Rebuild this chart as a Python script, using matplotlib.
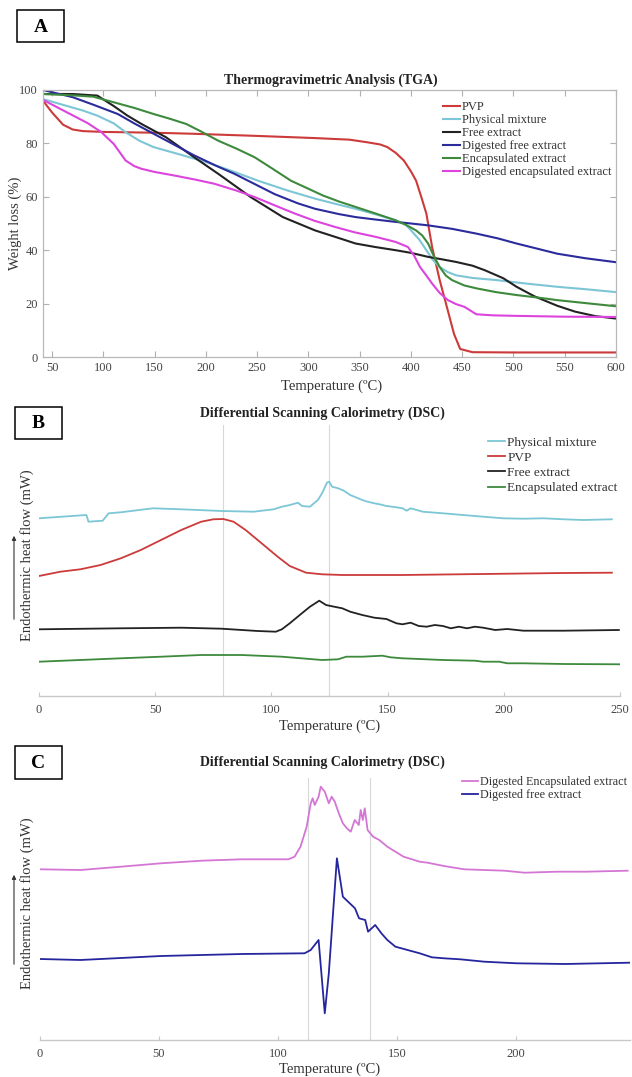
import matplotlib
matplotlib.use("Agg")
import matplotlib.pyplot as plt
from matplotlib.patches import Rectangle, FancyArrowPatch

plt.rcParams['font.family'] = ['Liberation Serif', 'DejaVu Serif']

W, H = 632, 1077

# ---- A : TGA (weight %) ----
pvp_t = [41, 50, 60.6, 70, 80, 100, 150, 188, 250, 306, 340, 357.6, 370, 377, 385, 393, 400, 405,
         410, 415, 420.6, 428, 436, 442, 448, 460, 500, 600]
pvp_w = [96, 91.5, 87, 85.2, 84.6, 84.3, 84, 83.6, 82.8, 82, 81.4, 80.4, 79.6, 78.6, 76.5, 73.6, 69.5, 66,
         60, 53.7, 41.2, 28.8, 17.3, 8.6, 3, 1.8, 1.7, 1.7]
phys_t = [41, 60, 80, 94, 110, 121.6, 135, 149, 175, 200, 225, 251, 280, 306.5, 330, 346, 365, 385, 395,
          401, 408, 415, 421, 428, 436, 444, 460, 483.5, 510, 542.6, 570, 600]
phys_w = [96.6, 94.5, 92.3, 90.4, 87.5, 84.2, 81, 78.6, 75.8, 73, 69.7, 66, 62.3, 59.3, 57, 55.5, 53.5,
          51.2, 49.5, 47, 44, 40, 36.5, 33.7, 31.8, 30.6, 29.6, 28.8, 27.6, 26.3, 25.4, 24.3]
free_t = [41, 70, 94, 110, 123, 137, 161, 188.5, 212, 243.6, 275, 306.5, 330, 346, 365, 385, 400, 416.7,
          430, 444, 460, 472, 490, 503, 520, 542.6, 560, 580, 600]
free_w = [98.5, 98.5, 97.9, 94, 90.5, 87.3, 82.3, 74.8, 68.6, 59.9, 52.4, 47.4, 44.5, 42.5, 41.2, 40, 39,
          37.5, 36.6, 35.6, 34.2, 32.5, 29.5, 26.3, 22.8, 19.2, 17, 15.3, 14.4]
dfree_t = [41, 70, 90, 114, 130, 149, 170, 188.5, 210, 227.8, 250, 267, 290, 306.5, 330, 346, 365, 385,
           400, 416.7, 440, 464, 485, 503, 525, 542.6, 570, 600]
dfree_w = [100, 97.3, 94.5, 91, 87.5, 83.6, 79.3, 75.5, 71.6, 68.6, 64.3, 61, 57.5, 55.5, 53.5, 52.4,
           51.5, 50.6, 50, 49.3, 48, 46.2, 44.4, 42.5, 40.4, 38.7, 37, 35.5]
enc_t = [41, 70, 90, 110, 130, 149, 165, 180.6, 195, 212, 230, 247.5, 265, 283, 300, 314, 330, 346, 365,
         385, 395, 405, 411, 416.7, 422, 428, 434, 440, 452, 464, 483, 503, 525, 542.6, 570, 600]
enc_w = [98.5, 98, 97.5, 95.4, 93.3, 91, 89.2, 87.3, 84.5, 81, 78, 74.8, 70.5, 66, 63, 60.5, 58.2, 56.2,
         53.8, 51.2, 49.5, 47.4, 45.5, 42.5, 38, 33.7, 30.5, 28.8, 26.8, 25.7, 24.3, 23.2, 22.2, 21.3,
         20.2, 19]
denc_t = [41, 55, 70.5, 85, 98, 110, 121.6, 130, 137, 150, 168.8, 190, 208, 230, 247.5, 267, 286.8, 306,
          326, 345, 365.5, 385, 397, 403, 408.8, 415, 420.6, 428, 436, 444, 452, 463.8, 480, 503, 550, 600]
denc_w = [96.3, 93.5, 90.4, 87.5, 84.2, 79.8, 73.6, 71.5, 70.5, 69.3, 68, 66.4, 64.9, 62.3, 59.9, 56.8,
          53.7, 51, 48.7, 46.7, 45, 43.1, 41.2, 38, 33.7, 30.5, 27.5, 24, 21.3, 19.8, 18.8, 16, 15.6, 15.4,
          15.1, 15]

# ---- B : DSC (arbitrary heat flow, offset curves) ----
b_phys_t = [0, 20.4, 21.3, 27.4, 30, 35.2, 49, 61.2, 78.5, 92.3, 101, 104.5, 108, 111.4, 113.2, 116.6,
            118.3, 120, 121.8, 123.9, 124.9, 126.1, 128.7, 131, 133.9, 136, 139.1, 141, 144.3, 147,
            149.5, 153, 156.4, 158.2, 159.9, 165.1, 173.8, 182.4, 191.1, 199.8, 208.4, 217.1, 225.7,
            234.4, 246.5]
b_phys_q = [18.17, 18.5, 17.83, 17.93, 18.67, 18.77, 19.17, 19.07, 18.9, 18.83, 19.07, 19.33, 19.5,
            19.73, 19.4, 19.33, 19.67, 20, 20.67, 21.73, 21.83, 21.33, 21.17, 20.95, 20.5, 20.3, 20,
            19.85, 19.67, 19.55, 19.4, 19.3, 19.17, 18.93, 19.17, 18.83, 18.67, 18.5, 18.33, 18.17,
            18.13, 18.17, 18.07, 18, 18.07]
b_pvp_t = [0, 9.2, 17.8, 26.5, 35.2, 43.8, 52.5, 61.2, 69.8, 75, 79.3, 83.7, 88.9, 95.8, 102.7, 107.9,
           114.9, 121.8, 130.5, 156.4, 191.1, 225.7, 246.5]
b_pvp_q = [12.4, 12.83, 13.07, 13.5, 14.17, 15, 16, 17, 17.83, 18.07, 18.1, 17.83, 17, 15.67, 14.33,
           13.4, 12.73, 12.57, 12.5, 12.5, 12.6, 12.7, 12.73]
b_free_t = [0, 35.2, 61.2, 78.5, 94.1, 101.9, 104.5, 107.9, 113.1, 116.6, 120.6, 123.5, 127, 130.5,
            133.9, 139.1, 144.3, 149.5, 153.8, 156.4, 159.9, 163.4, 166.8, 170.3, 173.8, 177.2, 180.7,
            184.2, 187.6, 191.1, 196.3, 201.5, 208.4, 225.7, 249.5]
b_free_q = [7.07, 7.17, 7.23, 7.13, 6.9, 6.83, 7.07, 7.67, 8.67, 9.33, 9.93, 9.5, 9.33, 9.17, 8.83,
            8.5, 8.23, 8.1, 7.67, 7.57, 7.73, 7.4, 7.33, 7.5, 7.4, 7.17, 7.33, 7.17, 7.33, 7.23, 7, 7.1,
            6.93, 6.93, 7]
b_enc_t = [0, 17.8, 35.2, 52.5, 69.8, 87.1, 104.5, 121.8, 128.7, 132.2, 139.1, 147.8, 151.2, 156.4,
           173.8, 187.6, 191.1, 198, 201.5, 208.4, 225.7, 250]
b_enc_q = [3.83, 4, 4.17, 4.33, 4.5, 4.5, 4.33, 4, 4.07, 4.33, 4.33, 4.43, 4.27, 4.17, 4, 3.93, 3.83,
           3.83, 3.67, 3.67, 3.6, 3.57]
b_marks = [79.3, 124.9]

# ---- C : DSC of digested samples ----
c_denc_t = [0, 17, 34, 50.9, 67.9, 84.9, 104.4, 107, 109.5, 112.1, 113.8, 114.6, 115.5, 117.1, 118,
            119.7, 121.4, 122.6, 123.9, 125.6, 127.3, 129, 130.6, 132.3, 134, 134.8, 135.7, 136.5,
            137.7, 140, 142.6, 146, 149.4, 152.8, 159.6, 162.9, 169.8, 178.3, 186.8, 195.2, 203.7,
            217.3, 229.2, 247]
c_denc_q = [17.07, 17, 17.33, 17.67, 17.93, 18.07, 18.07, 18.33, 19.33, 21.33, 23.67, 24.17, 23.5,
            24.33, 25.33, 24.83, 23.67, 24.33, 23.83, 22.67, 21.67, 21.17, 20.83, 22, 21.5, 23, 22,
            23.17, 21, 20.33, 20, 19.33, 18.83, 18.33, 17.83, 17.73, 17.4, 17.07, 17, 16.93, 16.73,
            16.83, 16.83, 16.93]
c_dfree_t = [0, 17, 50.9, 84.9, 111.2, 113.8, 117.1, 119.7, 121.4, 124.8, 127.3, 132.4, 134.1, 136.7,
             137.9, 140.9, 143.5, 146, 149.4, 151.9, 154.5, 159.6, 164.7, 169.8, 176.6, 186.8, 200.3,
             220.7, 247.9]
c_dfree_q = [8.1, 8, 8.4, 8.6, 8.67, 9, 10, 2.67, 6.67, 18.17, 14.33, 13.17, 12.17, 12, 10.83, 11.5,
             10.67, 10, 9.33, 9.17, 9, 8.67, 8.27, 8.17, 8.07, 7.83, 7.67, 7.6, 7.73]
c_marks = [112.6, 138.9]

fig = plt.figure(figsize=(W / 100, H / 100), dpi=100)


def ax_px(l, t, r, b):
    return fig.add_axes([l / W, 1 - b / H, (r - l) / W, (b - t) / H])


def fig_text(x, y, s, **kw):
    fig.text(x / W, 1 - y / H, s, **kw)


def panel_box(l, t, r, b, s):
    # boxed panel letter, in pixel coordinates
    fig.add_artist(Rectangle((l / W, 1 - b / H), (r - l) / W, (b - t) / H, transform=fig.transFigure,
                             fill=False, ec='black', lw=1.1))
    fig_text((l + r) / 2, (t + b) / 2 + 1, s, ha='center', va='center', fontsize=14, fontweight='bold')


def dsc_axes(ax):
    for s in ['top', 'right', 'left']:
        ax.spines[s].set_visible(False)
    ax.spines['bottom'].set_color('#c8c8c8')
    ax.spines['bottom'].set_linewidth(1)
    ax.set_yticks([])
    ax.tick_params(axis='x', direction='in', length=3, color='#c8c8c8', labelsize=9,
                   labelcolor='#444444', pad=6)


def grey_legend(ax, x, y, size, spacing):
    leg = ax.legend(loc='upper left', bbox_to_anchor=(x / W, 1 - y / H), bbox_transform=fig.transFigure,
                    frameon=False, fontsize=size, handlelength=1.3, handletextpad=0.2,
                    labelspacing=spacing, borderpad=0)
    for t in leg.get_texts():
        t.set_color('#333333')


def heat_arrow(y0, y1):
    fig.add_artist(FancyArrowPatch((14 / W, 1 - y0 / H), (14 / W, 1 - y1 / H), transform=fig.transFigure,
                                   arrowstyle='-|>', mutation_scale=6, lw=0.8, color='#333333'))


grey = '#444444'

# ======== A ========
axA = ax_px(43, 90, 616, 357)
axA.plot(pvp_t, pvp_w, color='#cc3a3a', lw=1.5, label='PVP')
axA.plot(phys_t, phys_w, color='#7cc6d6', lw=1.5, label='Physical mixture')
axA.plot(free_t, free_w, color='#222222', lw=1.5, label='Free extract')
axA.plot(dfree_t, dfree_w, color='#2b2b9c', lw=1.5, label='Digested free extract')
axA.plot(enc_t, enc_w, color='#3d8a3d', lw=1.5, label='Encapsulated extract')
axA.plot(denc_t, denc_w, color='#dd44dd', lw=1.5, label='Digested encapsulated extract')
axA.set_xlim(41, 600)
axA.set_ylim(0, 100)
axA.set_xticks(range(50, 601, 50))
axA.set_yticks(range(0, 101, 20))
for s in axA.spines.values():
    s.set_color('#b8b8b8')
    s.set_linewidth(0.9)
axA.tick_params(direction='in', length=4, color='#b0b0b0', labelsize=9, labelcolor=grey,
                top=True, right=True)
grey_legend(axA, 437, 95, 9, 0.08)
fig_text(331, 80, 'Thermogravimetric Analysis (TGA)', ha='center', va='center',
         fontsize=10, fontweight='bold', color='#222222')
fig_text(332, 386, 'Temperature (ºC)', ha='center', va='center', fontsize=10.5, color='#333333')
fig_text(15, 223, 'Weight loss (%)', ha='center', va='center', rotation=90, fontsize=10.5,
         color='#333333')
panel_box(17, 10, 64, 42, 'A')

# ======== B ========
axB = ax_px(39, 425, 620, 696)
for m in b_marks:
    axB.axvline(m, color='#d8d8d8', lw=0.8, zorder=0)
axB.plot(b_phys_t, b_phys_q, color='#7cc6d6', lw=1.3, label='Physical mixture')
axB.plot(b_pvp_t, b_pvp_q, color='#cc3a3a', lw=1.3, label='PVP')
axB.plot(b_free_t, b_free_q, color='#222222', lw=1.3, label='Free extract')
axB.plot(b_enc_t, b_enc_q, color='#3d8a3d', lw=1.3, label='Encapsulated extract')
axB.set_xlim(0, 250)
axB.set_ylim(0.4, 27.5)
dsc_axes(axB)
grey_legend(axB, 481, 430, 9.5, 0.22)
fig_text(322, 413, 'Differential Scanning Calorimetry (DSC)', ha='center', va='center',
         fontsize=10, fontweight='bold', color='#222222')
fig_text(330, 726, 'Temperature (ºC)', ha='center', va='center', fontsize=10.5, color='#333333')
fig_text(27, 555, 'Endothermic heat flow (mW)', ha='center', va='center', rotation=90,
         fontsize=10.5, color='#333333')
heat_arrow(622, 533)
panel_box(15, 407, 62, 439, 'B')

# ======== C ========
axC = ax_px(40, 778, 630, 1040)
for m in c_marks:
    axC.axvline(m, color='#d8d8d8', lw=0.8, zorder=0)
axC.plot(c_denc_t, c_denc_q, color='#d476d4', lw=1.3, label='Digested Encapsulated extract')
axC.plot(c_dfree_t, c_dfree_q, color='#25259e', lw=1.3, label='Digested free extract')
axC.set_xlim(0, 248)
axC.set_ylim(0, 26.2)
axC.set_xticks(range(0, 201, 50))
dsc_axes(axC)
grey_legend(axC, 456, 770, 8.7, 0.08)
fig_text(322, 762, 'Differential Scanning Calorimetry (DSC)', ha='center', va='center',
         fontsize=10, fontweight='bold', color='#222222')
fig_text(330, 1069, 'Temperature (ºC)', ha='center', va='center', fontsize=10.5, color='#333333')
fig_text(27, 903, 'Endothermic heat flow (mW)', ha='center', va='center', rotation=90,
         fontsize=10.5, color='#333333')
heat_arrow(967, 872)
panel_box(15, 746, 62, 779, 'C')

fig.savefig('out.png', dpi=100, facecolor='white')
